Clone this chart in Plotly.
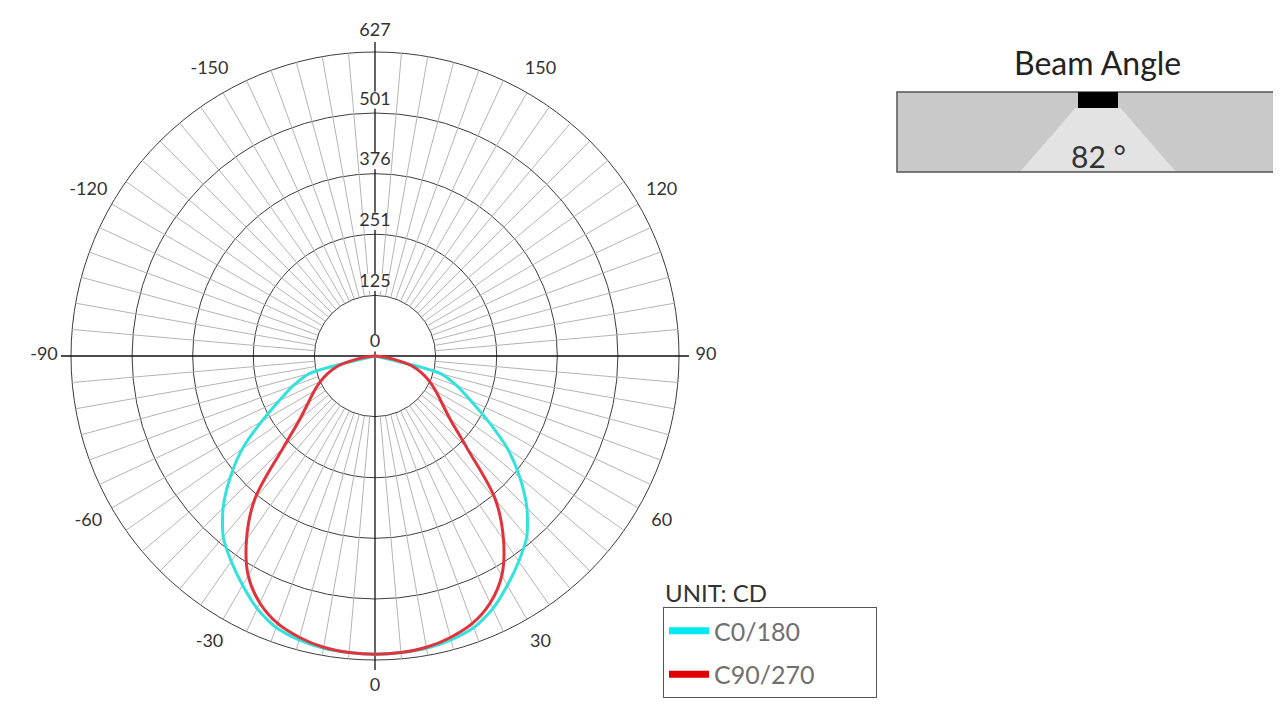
import math
import plotly.graph_objects as go

# the page body keeps its default 8px margin, so the figure is placed 8px in
PAGE_W, PAGE_H, OFF = 1281, 707, 8
W, H = PAGE_W - OFF, PAGE_H - OFF

# luminous intensity (cd) against gamma angle, 0 = straight down
gamma = list(range(-90, 95, 5))
c0_180 = [0, 0, 0, 140, 180, 218, 270, 334, 390, 443, 487, 517, 546, 575, 596, 606, 612, 614,
          615,
          614, 612, 606, 596, 575, 546, 517, 487, 443, 390, 334, 270, 218, 180, 140, 0, 0, 0]
c90_270 = [0, 12, 40, 78, 103, 124, 145, 168, 202, 268, 386, 462, 523, 562, 587, 601, 610, 614,
           615,
           614, 610, 601, 587, 562, 523, 462, 386, 268, 202, 168, 145, 124, 103, 78, 40, 12, 0]

radial_ticks = [0, 125, 251, 376, 501, 627]
angle_ticks = [0, 30, 60, 90, 120, 150, -150, -120, -90, -60, -30]
beam_angle = 82

FONT = "Lato"
CX, CY = 375, 356          # centre of the diagram, page px from top-left
R_PX = 304                 # radius of the 627 ring in px
R_MAX = 700                # radial range of the polar subplot
scale = R_PX / radial_ticks[-1]
frame = R_MAX * scale


def px(x, y):
    """page pixel -> paper fraction"""
    return (x - OFF) / W, 1 - (y - OFF) / H


fig = go.Figure()

# thin spokes every 5 deg from the first ring outwards
sr, st = [], []
for a in range(0, 360, 5):
    if a % 90:
        sr += [radial_ticks[1], radial_ticks[-1], None]
        st += [a, a, None]
fig.add_trace(go.Scatterpolar(r=sr, theta=st, mode="lines", line=dict(color="#b4b4b4", width=1),
                              hoverinfo="skip", showlegend=False))

# main cross through the centre
ext = 314 / scale
for a in (0, 90):
    fig.add_trace(go.Scatterpolar(r=[ext, 0, ext], theta=[a, a, a + 180], mode="lines",
                                  line=dict(color="#111", width=1.3), hoverinfo="skip", showlegend=False))

fig.add_trace(go.Scatterpolar(r=c0_180, theta=gamma, mode="lines",
                              line=dict(color="#34e2dc", width=3, shape="spline", smoothing=0.7),
                              name="C0/180", showlegend=False))
fig.add_trace(go.Scatterpolar(r=c90_270, theta=gamma, mode="lines",
                              line=dict(color="#e0333b", width=3, shape="spline", smoothing=1),
                              name="C90/270", showlegend=False))

# legend swatches (names padded so the box is as wide as the original)
fig.add_trace(go.Scatterpolar(r=[None], theta=[None], mode="lines", name="C0/180",
                              line=dict(color="#00e8f0", width=7), legendgroup="a"))
fig.add_trace(go.Scatterpolar(r=[None], theta=[None], mode="lines", name="C90/270" + "\u2002" * 4 + "\u00a0",
                              line=dict(color="#e00000", width=7), legendgroup="b"))

# radial labels along the upward axis, on white patches
gap = 13 / scale
label_r = [t + gap for t in radial_ticks[:-1]] + [radial_ticks[-1] + 20 / scale]
fig.add_trace(go.Scatterpolar(r=label_r, theta=[180] * len(radial_ticks), mode="markers+text",
                              text=[str(t) for t in radial_ticks], textposition="middle center",
                              marker=dict(symbol="square", size=17, color="white"),
                              textfont=dict(family=FONT, size=18, color="#333"),
                              hoverinfo="skip", showlegend=False))

# angle labels
fig.add_trace(go.Scatterpolar(r=[331 / scale] * len(angle_ticks), theta=angle_ticks, mode="text",
                              text=[str(a) for a in angle_ticks], textposition="middle center",
                              textfont=dict(family=FONT, size=18, color="#333"),
                              hoverinfo="skip", showlegend=False, cliponaxis=False))

x0, y0 = px(CX - frame, CY + frame)
x1, y1 = px(CX + frame, CY - frame)
lx, ly = px(663, 607)

fig.update_layout(
    width=W, height=H, margin=dict(l=0, r=0, t=0, b=0),
    paper_bgcolor="white", plot_bgcolor="white",
    font=dict(family=FONT, color="#333"),
    polar=dict(
        domain=dict(x=[x0, x1], y=[y0, y1]),
        bgcolor="rgba(0,0,0,0)",
        radialaxis=dict(range=[0, R_MAX], tickvals=radial_ticks[1:], showticklabels=False, ticks="",
                        showline=False, showgrid=True, gridcolor="#3c3c3c", gridwidth=1.3),
        angularaxis=dict(rotation=270, direction="counterclockwise", showgrid=False, showline=False,
                         showticklabels=False, ticks=""),
    ),
    showlegend=True,
    legend=dict(x=lx, y=ly, xanchor="left", yanchor="top",
                bordercolor="#555", borderwidth=1, bgcolor="white",
                font=dict(family=FONT, size=25, color="#707070"),
                itemwidth=40, tracegroupgap=8, traceorder="grouped"),
)

# unit title above the legend
ux, uy = px(663, 592)
fig.add_annotation(x=ux, y=uy, xref="paper", yref="paper", xanchor="left", yanchor="middle",
                   text="UNIT: CD", showarrow=False, font=dict(family=FONT, size=24, color="#333"))

# beam angle widget
bx0, by0 = px(897, 172)
bx1, by1 = px(1300, 92)
fig.add_shape(type="rect", xref="paper", yref="paper", x0=bx0, y0=by0, x1=bx1, y1=by1,
              fillcolor="#c9c9c9", line=dict(color="#555", width=1.5), layer="above")

apex_x, apex_y = 1098, 82
half = math.tan(math.radians(beam_angle / 2))
top_y, bot_y = 108, 171
pts = [(apex_x - (top_y - apex_y) * half, top_y), (apex_x + (top_y - apex_y) * half, top_y),
       (apex_x + (bot_y - apex_y) * half, bot_y), (apex_x - (bot_y - apex_y) * half, bot_y)]
path = "M " + " L ".join(f"{px(x, y)[0]:.5f},{px(x, y)[1]:.5f}" for x, y in pts) + " Z"
fig.add_shape(type="path", xref="paper", yref="paper", path=path, fillcolor="#e3e3e3",
              line=dict(width=0), layer="above")

fx0, fy0 = px(1078, 108)
fx1, fy1 = px(1118, 92)
fig.add_shape(type="rect", xref="paper", yref="paper", x0=fx0, y0=fy0, x1=fx1, y1=fy1,
              fillcolor="black", line=dict(width=0), layer="above")

tx, ty = px(1098, 156)
fig.add_annotation(x=tx, y=ty, xref="paper", yref="paper", xanchor="center", yanchor="middle",
                   text=f"{beam_angle} °", showarrow=False, font=dict(family=FONT, size=30, color="#333"))
hx, hy = px(1097, 63)
fig.add_annotation(x=hx, y=hy, xref="paper", yref="paper", xanchor="center", yanchor="middle",
                   text="Beam Angle", showarrow=False, font=dict(family=FONT, size=32, color="#222"))

fig.write_html("out.html")
